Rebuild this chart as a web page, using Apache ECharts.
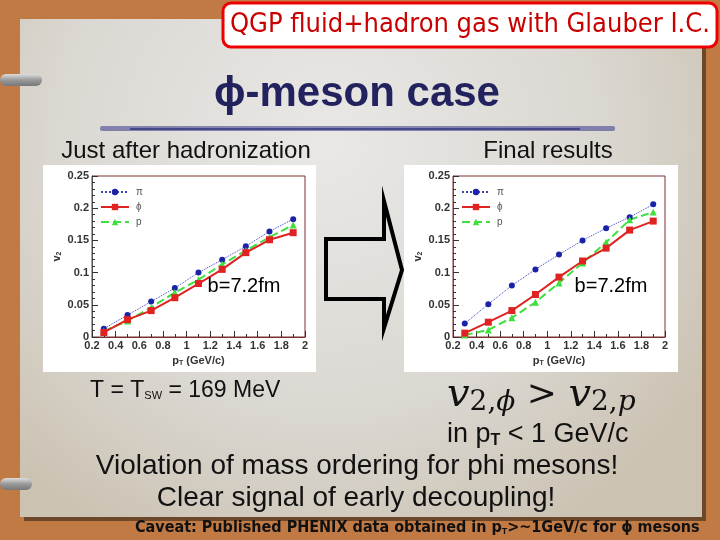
<!DOCTYPE html>
<html><head><meta charset="utf-8">
<script src="https://cdn.jsdelivr.net/npm/echarts@6/dist/echarts.min.js"></script>
<style>html,body{margin:0;padding:0;background:#c27a45;}#c{width:720px;height:540px;}</style>
</head><body><div id="c"></div>
<script>
// ---- data ----
var pT = [0.3, 0.5, 0.7, 0.9, 1.1, 1.3, 1.5, 1.7, 1.9];
var seriesNames = ['π', 'ϕ', 'p'];
// Left: just after hadronization
var leftPi  = [0.013, 0.034, 0.055, 0.076, 0.100, 0.120, 0.141, 0.164, 0.183];
var leftPhi = [0.007, 0.027, 0.041, 0.061, 0.083, 0.105, 0.131, 0.151, 0.162];
var leftP   = [0.009, 0.025, 0.046, 0.069, 0.089, 0.113, 0.134, 0.155, 0.174];
// Right: final results
var rightPi  = [0.021, 0.051, 0.080, 0.105, 0.128, 0.150, 0.169, 0.186, 0.206];
var rightPhi = [0.006, 0.023, 0.041, 0.066, 0.093, 0.118, 0.138, 0.166, 0.180];
var rightP   = [0.003, 0.011, 0.030, 0.054, 0.084, 0.115, 0.147, 0.182, 0.194];
var xTicks = [0.2, 0.4, 0.6, 0.8, 1.0, 1.2, 1.4, 1.6, 1.8, 2.0];
var yTicks = [0, 0.05, 0.1, 0.15, 0.2, 0.25];

function pairs(v){ return pT.map(function(x,i){ return [x, v[i]]; }); }

var chart = echarts.init(document.getElementById('c'), null, {renderer:'canvas'});
var sans = 'Liberation Sans, Arial, sans-serif';
var SF = '"Liberation Sans", Arial, sans-serif';
var SERIF = '"DejaVu Serif", "Liberation Serif", serif';

function xAxisOf(gi){
  return {
    type:'value', gridIndex:gi, min:xTicks[0], max:xTicks[xTicks.length-1], interval:0.2,
    axisLine:{show:true, lineStyle:{color:'#7a3030', width:1}},
    axisTick:{show:true, inside:true, length:6, lineStyle:{color:'#333'}},
    minorTick:{show:true, splitNumber:2, length:3, lineStyle:{color:'#333'}},
    splitLine:{show:false},
    axisLabel:{margin:3, color:'#333', fontFamily:sans, fontWeight:'bold', fontSize:11,
      formatter:function(v){ return String(+v.toFixed(1)); }},
    name:'{b|p}{s|T}{b| (GeV/c)}', nameLocation:'middle', nameGap:17,
    nameTextStyle:{rich:{b:{fontFamily:sans, fontWeight:'bold', fontSize:11, color:'#333'},
      s:{fontFamily:sans, fontWeight:'bold', fontSize:7, color:'#333', verticalAlign:'bottom', padding:[6,0,0,0]}}}
  };
}
function yAxisOf(gi){
  return {
    type:'value', gridIndex:gi, min:yTicks[0], max:yTicks[yTicks.length-1], interval:0.05,
    axisLine:{show:true, lineStyle:{color:'#555', width:1}},
    axisTick:{show:true, inside:true, length:6, lineStyle:{color:'#333'}},
    minorTick:{show:true, splitNumber:5, length:3, lineStyle:{color:'#333'}},
    splitLine:{show:false},
    axisLabel:{margin:3, color:'#333', fontFamily:sans, fontWeight:'bold', fontSize:11,
      formatter:function(v){ return String(+v.toFixed(2)); }},
    name:'{b|v}{s|2}', nameLocation:'middle', nameGap:29, nameRotate:90,
    nameTextStyle:{rich:{b:{fontFamily:sans, fontWeight:'bold', fontSize:11, color:'#333'},
      s:{fontFamily:sans, fontWeight:'bold', fontSize:7, color:'#333', verticalAlign:'bottom', padding:[6,0,0,0]}}}
  };
}
function mkSeries(gi, pi, phi, p){
  return [
    {name:seriesNames[0], type:'line', xAxisIndex:gi, yAxisIndex:gi, data:pairs(pi),
     symbol:'circle', symbolSize:6, itemStyle:{color:'#1a22a8'},
     lineStyle:{color:'#3a44c0', width:1, type:'dotted'}, z:3, animation:false},
    {name:seriesNames[1], type:'line', xAxisIndex:gi, yAxisIndex:gi, data:pairs(phi),
     symbol:'rect', symbolSize:7, itemStyle:{color:'#e02222'},
     lineStyle:{color:'#e02222', width:2, type:'solid'}, z:4, animation:false},
    {name:seriesNames[2], type:'line', xAxisIndex:gi, yAxisIndex:gi, data:pairs(p),
     symbol:'triangle', symbolSize:7, itemStyle:{color:'#3ee03e'},
     lineStyle:{color:'#3ee03e', width:2, type:'dashed'}, z:3, animation:false}
  ];
}
function legendOf(left){
  return {left:left, top:187, orient:'vertical', itemWidth:28, itemHeight:8, itemGap:5, padding:0,
    data:seriesNames, textStyle:{fontFamily:sans, fontSize:10, color:'#555', padding:[0,0,0,2]}, selectedMode:false};
}

var tx = function(x,y,text,font,fill,extra){
  return {type:'text', x:x, y:y, style:Object.assign({text:text, font:font, fill:fill}, extra||{}), z:10};
};

var graphic = [
  // brown frame + paper
  {type:'rect', shape:{x:0,y:0,width:720,height:540}, style:{fill:'#c27a45'}, z:-10},
  {type:'rect', shape:{x:24,y:23,width:682,height:498}, style:{fill:'rgba(40,30,20,0.55)'}, z:-9},
  {type:'rect', shape:{x:20,y:19,width:682,height:498},
   style:{fill:new echarts.graphic.RadialGradient(0.45,0.25,0.9,[{offset:0,color:'#e9e8e6'},{offset:0.6,color:'#dbd8d2'},{offset:1,color:'#cbc2b2'}])}, z:-8},
  // binder rods
  {type:'rect', shape:{x:0,y:74,width:42,height:12,r:6}, style:{fill:new echarts.graphic.LinearGradient(0,0,0,1,[{offset:0,color:'#ddd'},{offset:0.5,color:'#999'},{offset:1,color:'#777'}])}, z:-7},
  {type:'rect', shape:{x:0,y:478,width:32,height:12,r:6}, style:{fill:new echarts.graphic.LinearGradient(0,0,0,1,[{offset:0,color:'#ddd'},{offset:0.5,color:'#999'},{offset:1,color:'#777'}])}, z:-7},
  // title box
  {type:'rect', shape:{x:223,y:3,width:494,height:44,r:8}, style:{fill:'#ffffff', stroke:'#ee0000', lineWidth:3}, z:5},
  tx(470,25,'QGP fluid+hadron gas with Glauber I.C.','27px "DejaVu Sans Condensed", sans-serif','#c80000',{align:'center', verticalAlign:'middle'}),
  // main heading
  tx(357,94,'ϕ-meson case','bold 42px ' + SF,'#22225e',{align:'center', verticalAlign:'middle'}),
  // scribble underline
  {type:'rect', shape:{x:100,y:126,width:515,height:5,r:2}, style:{fill:'rgba(40,40,130,0.5)'}, z:6},
  {type:'rect', shape:{x:130,y:128,width:450,height:2}, style:{fill:'rgba(30,30,110,0.6)'}, z:6},
  tx(186,151,'Just after hadronization','24px ' + SF,'#111',{align:'center', verticalAlign:'middle'}),
  tx(548,151,'Final results','24px ' + SF,'#111',{align:'center', verticalAlign:'middle'}),
  // chart panels
  {type:'rect', shape:{x:43,y:165,width:273,height:207}, style:{fill:'#ffffff'}, z:-5},
  {type:'rect', shape:{x:404,y:165,width:274,height:207}, style:{fill:'#ffffff'}, z:-5},
  tx(244,286,'b=7.2fm','20px ' + SF,'#000',{align:'center', verticalAlign:'middle'}),
  tx(611,286,'b=7.2fm','20px ' + SF,'#000',{align:'center', verticalAlign:'middle'}),
  // arrow outline
  {type:'polygon', shape:{points:[[326,239],[384,239],[384,201],[402,270],[384,328],[384,299],[326,299]]},
   style:{fill:'none', stroke:'#000', lineWidth:4, lineJoin:'miter'}, z:6},
  // bottom texts
  {type:'text', x:90, y:391, z:10, style:{text:'{a|T = T}{s|SW}{a| = 169 MeV}', verticalAlign:'middle',
    rich:{a:{font:'23px ' + SF, fill:'#111'}, s:{font:'11px ' + SF, fill:'#111', padding:[9,0,0,0]}}}},
  {type:'text', x:447, y:396, z:10, style:{text:'{v|v}{s|2,}{si|ϕ}{o| > }{v|v}{s|2,}{si|p}', verticalAlign:'middle',
    rich:{v:{font:'italic 40px ' + SERIF, fill:'#111'},
          s:{font:'28px ' + SERIF, fill:'#111', padding:[14,0,0,0]},
          si:{font:'italic 28px ' + SERIF, fill:'#111', padding:[14,0,0,0]},
          o:{font:'36px ' + SERIF, fill:'#111'}}}},
  {type:'text', x:447, y:435, z:10, style:{text:'{a|in p}{s|T}{a| < 1 GeV/c}', verticalAlign:'middle',
    rich:{a:{font:'27px ' + SF, fill:'#111'}, s:{font:'bold 16px ' + SF, fill:'#111', padding:[11,0,0,0]}}}},
  tx(357,466,'Violation of mass ordering for phi mesons!','28px ' + SF,'#111',{align:'center', verticalAlign:'middle'}),
  tx(356,498,'Clear signal of early decoupling!','28px ' + SF,'#111',{align:'center', verticalAlign:'middle'}),
  {type:'text', x:135, y:528, z:10, style:{text:'{a|Caveat: Published PHENIX data obtained in p}{s|T}{a|>~1GeV/c for ϕ mesons}', verticalAlign:'middle',
    rich:{a:{font:'bold 16px "DejaVu Sans Condensed", sans-serif', fill:'#111'}, s:{font:'bold 9px ' + SF, fill:'#111', padding:[7,0,0,0]}}}}
];

chart.setOption({
  animation:false,
  backgroundColor:'transparent',
  graphic:graphic,
  grid:[
    {left:92, top:176, width:213, height:161, show:true, borderColor:'#7a3030', borderWidth:1, backgroundColor:'transparent'},
    {left:453, top:176, width:212, height:161, show:true, borderColor:'#7a3030', borderWidth:1, backgroundColor:'transparent'}
  ],
  xAxis:[xAxisOf(0), xAxisOf(1)],
  yAxis:[yAxisOf(0), yAxisOf(1)],
  legend:[legendOf(100), legendOf(461)],
  series:mkSeries(0,leftPi,leftPhi,leftP).concat(mkSeries(1,rightPi,rightPhi,rightP))
});
</script></body></html>
